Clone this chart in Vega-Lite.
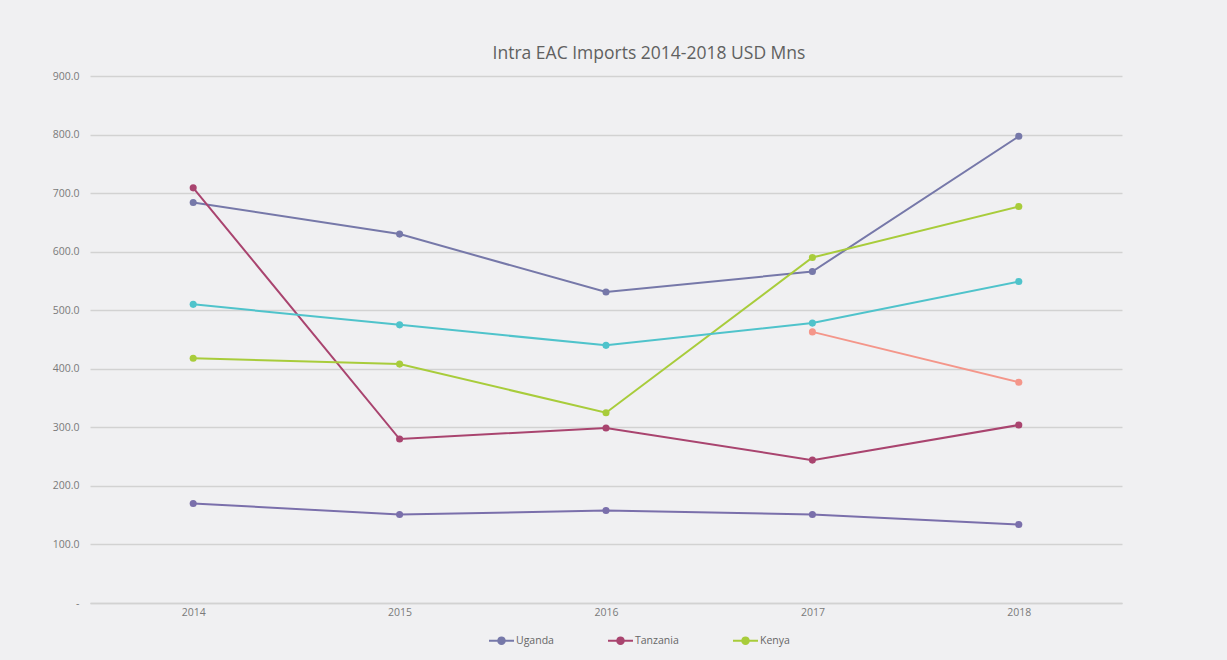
{
  "$schema": "https://vega.github.io/schema/vega-lite/v6.json",
  "width": 1032,
  "height": 527,
  "autosize": "none",
  "padding": {"left": 90, "top": 76, "right": 105, "bottom": 57},
  "background": "#f0f0f2",
  "config": {
    "view": {"stroke": null},
    "font": "Open Sans"
  },
  "title": {
    "text": "Intra EAC Imports 2014-2018 USD Mns",
    "fontSize": 17.5,
    "fontWeight": "normal",
    "color": "#606060",
    "font": "Open Sans",
    "anchor": "middle",
    "dx": 43,
    "offset": 9
  },
  "data": {
    "values": [
      {"year": "2014", "series": "Uganda", "value": 684},
      {"year": "2015", "series": "Uganda", "value": 630},
      {"year": "2016", "series": "Uganda", "value": 531},
      {"year": "2017", "series": "Uganda", "value": 566},
      {"year": "2018", "series": "Uganda", "value": 797},
      {"year": "2014", "series": "Tanzania", "value": 709},
      {"year": "2015", "series": "Tanzania", "value": 280},
      {"year": "2016", "series": "Tanzania", "value": 299},
      {"year": "2017", "series": "Tanzania", "value": 244},
      {"year": "2018", "series": "Tanzania", "value": 304},
      {"year": "2014", "series": "Kenya", "value": 418},
      {"year": "2015", "series": "Kenya", "value": 408},
      {"year": "2016", "series": "Kenya", "value": 325},
      {"year": "2017", "series": "Kenya", "value": 590},
      {"year": "2018", "series": "Kenya", "value": 677},
      {"year": "2014", "series": "Series 4", "value": 510},
      {"year": "2015", "series": "Series 4", "value": 475},
      {"year": "2016", "series": "Series 4", "value": 440},
      {"year": "2017", "series": "Series 4", "value": 478},
      {"year": "2018", "series": "Series 4", "value": 549},
      {"year": "2017", "series": "Series 5", "value": 463},
      {"year": "2018", "series": "Series 5", "value": 377},
      {"year": "2014", "series": "Series 6", "value": 170},
      {"year": "2015", "series": "Series 6", "value": 151},
      {"year": "2016", "series": "Series 6", "value": 158},
      {"year": "2017", "series": "Series 6", "value": 151},
      {"year": "2018", "series": "Series 6", "value": 134}
    ]
  },
  "encoding": {
    "x": {
      "field": "year",
      "type": "ordinal",
      "title": null,
      "scale": {"type": "point", "padding": 0.5},
      "axis": {
        "labelAngle": 0,
        "labelFontSize": 10.5,
        "labelColor": "#7a7a7a",
        "labelPadding": 4,
        "ticks": false,
        "domain": true,
        "domainColor": "#d2d2d2",
        "domainWidth": 1.5,
        "grid": false
      }
    },
    "y": {
      "field": "value",
      "type": "quantitative",
      "title": null,
      "scale": {"domain": [0, 900]},
      "axis": {
        "values": [0, 100, 200, 300, 400, 500, 600, 700, 800, 900],
        "labelExpr": "datum.value == 0 ? '-' : format(datum.value, '.1f')",
        "labelFontSize": 10.5,
        "labelColor": "#7a7a7a",
        "labelPadding": 11,
        "ticks": false,
        "domain": false,
        "grid": true,
        "gridColor": "#d2d2d2",
        "gridWidth": 1.5
      }
    },
    "color": {
      "field": "series",
      "type": "nominal",
      "scale": {
        "domain": ["Uganda", "Tanzania", "Kenya", "Series 4", "Series 5", "Series 6"],
        "range": ["#7678a9", "#a9446f", "#a8cc3b", "#4fc3cb", "#f4968a", "#7a6fab"]
      },
      "legend": {
        "values": ["Uganda", "Tanzania", "Kenya"],
        "title": null,
        "orient": "none",
        "direction": "horizontal",
        "legendX": 398,
        "legendY": 551,
        "symbolType": "M -1 0 L 1 0 M -0.26 0 A 0.26 0.26 0 1 1 0.26 0 A 0.26 0.26 0 1 1 -0.26 0 Z",
        "symbolSize": 625,
        "symbolStrokeWidth": 2,
        "labelFontSize": 10.5,
        "labelColor": "#666666",
        "labelOffset": 1,
        "columnPadding": 50
      }
    }
  },
  "layer": [
    {
      "mark": {"type": "line", "strokeWidth": 2}
    },
    {
      "mark": {"type": "point", "filled": true, "size": 50, "opacity": 1, "shape": "circle"}
    }
  ]
}
